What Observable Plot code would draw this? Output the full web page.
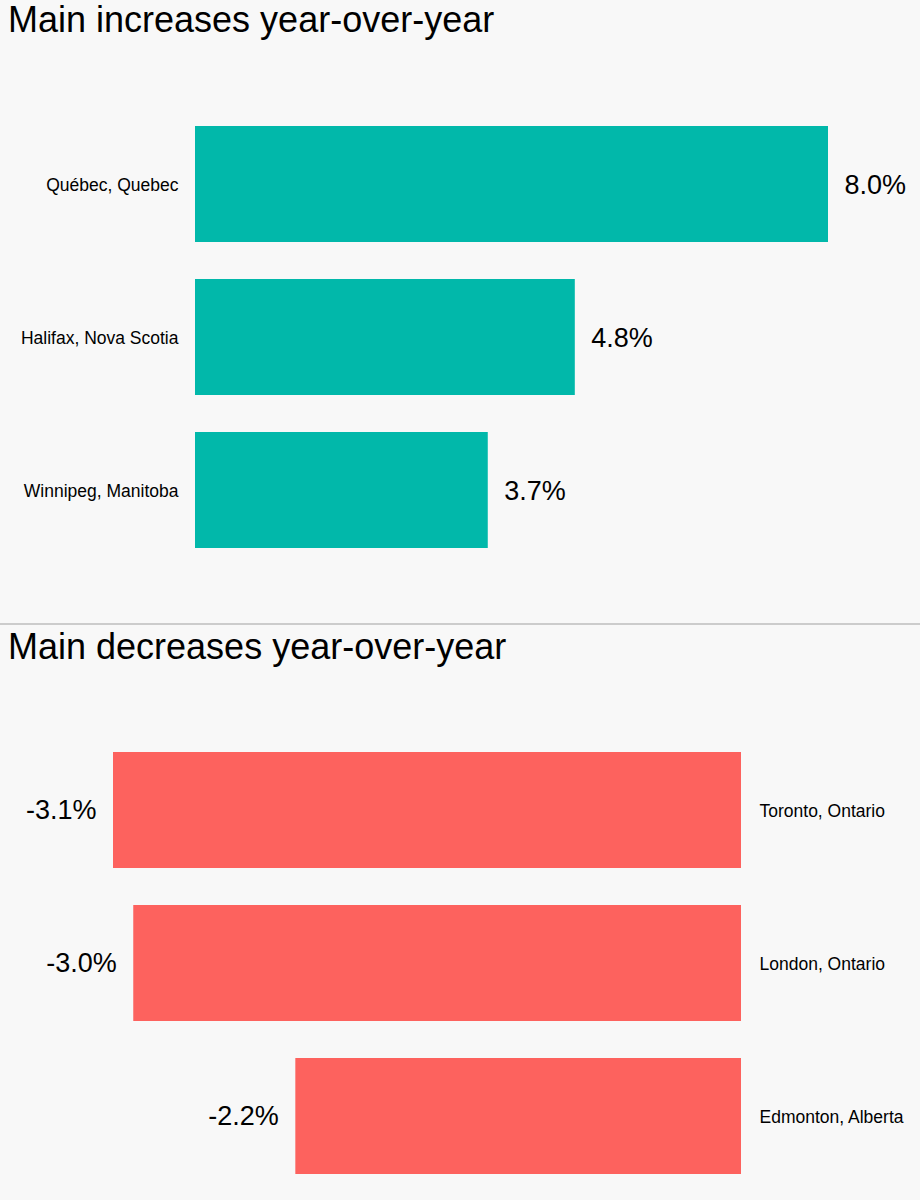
<!DOCTYPE html>
<html>
<head>
<meta charset="utf-8">
<script src="https://cdn.jsdelivr.net/npm/d3@7"></script>
<script src="https://cdn.jsdelivr.net/npm/@observablehq/plot@0.6"></script>
<style>
  html, body { margin: 0; padding: 0; background: #f8f8f8; }
  body { width: 920px; height: 1200px; overflow: hidden; font-family: "Liberation Sans", Arial, sans-serif; }
  .title { font-size: 36px; line-height: 40px; color: #000; padding-left: 8px; box-sizing: border-box; white-space: nowrap; }
  #t1 { height: 60px; }
  #t2 { height: 60px; padding-top: 2px; }
  .sep { border-top: 2px solid #cccccc; }
  svg { display: block; }
</style>
</head>
<body>
<div class="title" id="t1">Main increases year-over-year</div>
<div id="p1"></div>
<div class="sep"></div>
<div class="title" id="t2">Main decreases year-over-year</div>
<div id="p2"></div>
<script>
// Year-over-year change by city, in percent
const increaseCities = ["Québec, Quebec", "Halifax, Nova Scotia", "Winnipeg, Manitoba"];
const increaseValues = [8.0, 4.8, 3.7];
const decreaseCities = ["Toronto, Ontario", "London, Ontario", "Edmonton, Alberta"];
const decreaseValues = [-3.1, -3.0, -2.2];

const increases = increaseCities.map((city, i) => ({city, value: increaseValues[i]}));
const decreases = decreaseCities.map((city, i) => ({city, value: decreaseValues[i]}));

const fmt = v => v.toFixed(1) + "%";
const font = '"Liberation Sans", Arial, sans-serif';

const up = Plot.plot({
  width: 920,
  height: 563,
  marginLeft: 195,
  marginRight: 92,
  marginTop: 28,
  marginBottom: 37,
  style: {background: "transparent", fontFamily: font, color: "#000"},
  x: {domain: [0, 8], axis: null},
  y: {domain: increaseCities, padding: 0.245, axis: null},
  marks: [
    Plot.barX(increases, {x: "value", y: "city", fill: "#01b8aa"}),
    Plot.text(increases, {y: "city", text: "city", frameAnchor: "left", textAnchor: "end", dx: -17, dy: 1, fontSize: 17.5, fill: "#000"}),
    Plot.text(increases, {x: "value", y: "city", text: d => fmt(d.value), textAnchor: "start", dx: 16, dy: 1, fontSize: 27, fill: "#000"})
  ]
});
document.getElementById("p1").appendChild(up);

const down = Plot.plot({
  width: 920,
  height: 515,
  marginLeft: 113,
  marginRight: 179,
  marginTop: 0,
  marginBottom: 0,
  style: {background: "transparent", fontFamily: font, color: "#000", overflow: "visible"},
  x: {domain: [-3.1, 0], axis: null},
  y: {domain: decreaseCities, padding: 0.245, range: [29, 527], axis: null},
  marks: [
    Plot.barX(decreases, {x: "value", y: "city", fill: "#fd625e"}),
    Plot.text(decreases, {y: "city", text: "city", frameAnchor: "right", textAnchor: "start", dx: 18, dy: 1, fontSize: 17.5, fill: "#000"}),
    Plot.text(decreases, {x: "value", y: "city", text: d => fmt(d.value), textAnchor: "end", dx: -17, fontSize: 27, fill: "#000"})
  ]
});
document.getElementById("p2").appendChild(down);
</script>
</body>
</html>
